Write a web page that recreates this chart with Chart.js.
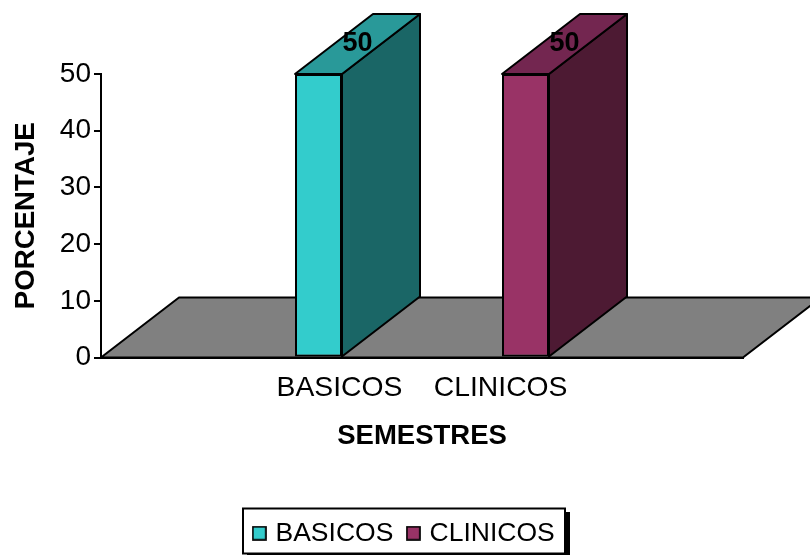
<!DOCTYPE html>
<html><head><meta charset="utf-8">
<style>html,body{margin:0;padding:0;background:#fff}#w{width:810px;height:555px;position:relative}</style>
<script src="https://cdn.jsdelivr.net/npm/chart.js@4"></script></head>
<body><div id="w"><canvas id="c" width="810" height="555"></canvas></div>
<script>
const categories = ['BASICOS    CLINICOS'];
const seriesNames = ['BASICOS', 'CLINICOS'];
const basicosValues = [50];
const clinicosValues = [50];
const yTicks = [0, 10, 20, 30, 40, 50];
const frontColors = ['#33CCCC', '#993366'];
const topColors = ['#299999', '#732650'];
const sideColors = ['#1A6666', '#4D1A33'];
const FONT = '"Liberation Sans", Arial, sans-serif';
const DX = 78, DY = 60, LW = 2;

function swatch(color) {
  const s = document.createElement('canvas');
  s.width = 15; s.height = 15;
  const g = s.getContext('2d');
  g.fillStyle = color; g.fillRect(1, 1, 13, 13);
  g.strokeStyle = '#000'; g.lineWidth = 1.7; g.strokeRect(1, 1, 13, 13);
  return s;
}
function poly(ctx, pts, fill) {
  ctx.beginPath();
  pts.forEach((p, i) => i ? ctx.lineTo(p[0], p[1]) : ctx.moveTo(p[0], p[1]));
  ctx.closePath();
  ctx.fillStyle = fill; ctx.fill();
  ctx.strokeStyle = '#000'; ctx.lineWidth = LW; ctx.lineJoin = 'round'; ctx.stroke();
}
const extras = {
  id: 'extras',
  afterLayout(chart) {
    const l = chart.legend;
    l.left += 34; l.right += 34; l.top += 1.5; l.bottom += 1.5;
  },
  beforeDraw(chart) {
    const ctx = chart.ctx;
    ctx.save();
    ctx.fillStyle = '#000';
    ctx.fillRect(247, 512, 323, 43);
    ctx.fillStyle = '#fff'; ctx.strokeStyle = '#000'; ctx.lineWidth = 2;
    ctx.fillRect(243, 508.5, 322, 45);
    ctx.strokeRect(243, 508.5, 322, 45);
    ctx.restore();
  },
  beforeDatasetsDraw(chart) {
    const ctx = chart.ctx, a = chart.chartArea, y0 = chart.scales.y.getPixelForValue(0);
    ctx.save();
    poly(ctx, [[a.left, y0], [a.right, y0], [a.right + DX, y0 - DY], [a.left + DX, y0 - DY]], '#808080');
    ctx.restore();
  },
  afterDatasetsDraw(chart) {
    const ctx = chart.ctx;
    ctx.save();
    chart.data.datasets.forEach((ds, i) => {
      const b = chart.getDatasetMeta(i).data[0];
      const l = b.x - b.width / 2, r = b.x + b.width / 2, t = b.y, bt = b.base;
      poly(ctx, [[r, bt], [r + DX, bt - DY], [r + DX, t - DY], [r, t]], sideColors[i]);
      poly(ctx, [[l, t], [r, t], [r + DX, t - DY], [l + DX, t - DY]], topColors[i]);
    });
    ctx.fillStyle = '#000'; ctx.textAlign = 'center'; ctx.textBaseline = 'middle';
    ctx.font = 'bold 27px ' + FONT;
    chart.data.datasets.forEach((ds, i) => {
      const b = chart.getDatasetMeta(i).data[0];
      ctx.fillText(String(ds.data[0]), b.x + DX / 2, b.y - 30);
    });
    ctx.restore();
  }
};
new Chart(document.getElementById('c'), {
  type: 'bar',
  data: {
    labels: categories,
    datasets: [
      { label: seriesNames[0], data: basicosValues, backgroundColor: frontColors[0], borderColor: '#000', borderWidth: LW, borderSkipped: false },
      { label: seriesNames[1], data: clinicosValues, backgroundColor: frontColors[1], borderColor: '#000', borderWidth: LW, borderSkipped: false }
    ]
  },
  options: {
    responsive: false, animation: false,
    layout: { padding: { top: 74, right: 67, left: 0, bottom: 0 } },
    datasets: { bar: { categoryPercentage: 414 / 642, barPercentage: 47 / 207 } },
    scales: {
      x: {
        grid: { display: false },
        border: { display: true, color: '#000', width: LW },
        ticks: { color: '#000', font: { family: FONT, size: 28.3 }, padding: 6, maxRotation: 0, autoSkip: false },
        title: { display: true, text: 'SEMESTRES', color: '#000', font: { family: FONT, size: 27.5, weight: 'bold' }, padding: { top: 0, bottom: 49 } },
        afterFit(s) { s.height = 144; }
      },
      y: {
        min: 0, max: 50,
        grid: { drawOnChartArea: false, color: '#000', lineWidth: LW, tickLength: 7 },
        border: { display: true, color: '#000', width: LW },
        afterBuildTicks(s) { s.ticks = yTicks.map(v => ({ value: v })); },
        ticks: { color: '#000', font: { family: FONT, size: 28 }, padding: 3 },
        title: { display: true, text: 'PORCENTAJE', color: '#000', font: { family: FONT, size: 27.7, weight: 'bold' }, padding: { top: 10, bottom: 0 } },
        afterFit(s) { s.width = 101; }
      }
    },
    plugins: {
      title: { display: false }, tooltip: { enabled: false },
      legend: {
        position: 'bottom',
        labels: {
          color: '#000', font: { family: FONT, size: 26.5 }, usePointStyle: true, boxWidth: 6, padding: 17,
          generateLabels(chart) {
            return chart.data.datasets.map((d, i) => ({
              text: d.label, datasetIndex: i, pointStyle: swatch(frontColors[i]), fontColor: '#000', hidden: false,
              fillStyle: frontColors[i], strokeStyle: '#000', lineWidth: 0
            }));
          }
        }
      }
    }
  },
  plugins: [extras]
});
</script></body></html>
